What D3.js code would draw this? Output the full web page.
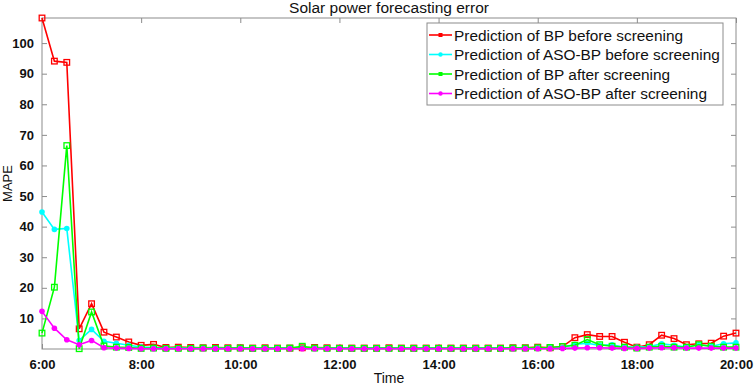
<!DOCTYPE html>
<html>
<head>
<meta charset="utf-8">
<title>Solar power forecasting error</title>
<script src="https://d3js.org/d3.v7.min.js"></script>
<style>
  body { margin: 0; background: #fff; }
  text { font-family: "Liberation Sans", Arial, sans-serif; }
</style>
</head>
<body>
<svg width="754" height="385"></svg>
<script>
// time of day in hours, one point every 15 minutes, 6:00 .. 20:00
const hours = d3.range(0, 57).map(i => 6 + i * 0.25);
const xTicks = [6, 8, 10, 12, 14, 16, 18, 20];
const yTicks = [10, 20, 30, 40, 50, 60, 70, 80, 90, 100];

const bpBefore = [108.2, 94.1, 93.7, 6.6, 14.8, 5.5, 3.9, 2.3, 1.2, 1.5, 0.5, 0.6,
  0.5, 0.4, 0.5, 0.4, 0.4, 0.3, 0.4, 0.3, 0.3, 0.4, 0.5, 0.4, 0.3, 0.3, 0.3, 0.3,
  0.4, 0.3, 0.3, 0.3, 0.3, 0.3, 0.3, 0.3, 0.3, 0.3, 0.4, 0.4,
  0.6, 0.4, 0.8, 3.7, 4.7, 4.1, 4.1, 2.2, 0.6, 1.4, 4.5, 3.4, 1.4, 1.7, 1.9, 4.2, 5.2];
const asoBefore = [44.8, 39.1, 39.4, 2.8, 6.4, 2.5, 1.9, 1.2, 0.6, 0.5, 0.4, 0.4,
  0.3, 0.3, 0.3, 0.3, 0.3, 0.3, 0.3, 0.3, 0.3, 0.3, 0.3, 0.3, 0.3, 0.3, 0.3, 0.3,
  0.3, 0.3, 0.3, 0.3, 0.3, 0.3, 0.3, 0.3, 0.3, 0.3, 0.3, 0.3,
  0.4, 0.4, 0.5, 1.5, 1.9, 1.2, 1.4, 0.6, 0.6, 0.8, 1.7, 1.2, 0.6, 1.4, 0.9, 1.7, 2.0];
const bpAfter = [5.2, 20.2, 66.5, 0.1, 12.1, 1.0, 0.6, 0.5, 0.2, 0.3, 0.2, 0.2,
  0.2, 0.3, 0.2, 0.2, 0.3, 0.2, 0.2, 0.2, 0.3, 0.9, 0.3, 0.2, 0.2, 0.2, 0.2, 0.2,
  0.2, 0.2, 0.2, 0.2, 0.2, 0.2, 0.2, 0.2, 0.2, 0.2, 0.3, 0.3,
  0.4, 0.5, 0.8, 1.2, 3.1, 1.4, 0.9, 0.6, 0.3, 0.6, 0.9, 0.6, 0.6, 1.4, 0.9, 0.6, 0.6];
const asoAfter = [12.3, 6.8, 3.0, 1.4, 2.8, 0.4, 0.3, 0.2, 0.1, 0.1, 0.1, 0.1,
  0.1, 0.1, 0.1, 0.1, 0.1, 0.1, 0.1, 0.1, 0.1, 0.1, 0.1, 0.1, 0.1, 0.1, 0.1, 0.1,
  0.1, 0.1, 0.1, 0.1, 0.1, 0.1, 0.1, 0.1, 0.1, 0.1, 0.1, 0.1,
  0.1, 0.1, 0.2, 0.3, 0.4, 0.4, 0.3, 0.2, 0.2, 0.3, 0.4, 0.4, 0.3, 0.3, 0.3, 0.3, 0.3];

const series = [
  {name: "Prediction of BP before screening", values: bpBefore, color: "#ff0000", marker: "square"},
  {name: "Prediction of ASO-BP before screening", values: asoBefore, color: "#00ffff", marker: "dot"},
  {name: "Prediction of BP after screening", values: bpAfter, color: "#00ff00", marker: "square"},
  {name: "Prediction of ASO-BP after screening", values: asoAfter, color: "#ff00ff", marker: "dot"}
];

const margin = {top: 18, right: 18, bottom: 36, left: 42};
const width = 754 - margin.left - margin.right;
const height = 385 - margin.top - margin.bottom;
const axisColor = "#8c8c8c";

const svg = d3.select("svg");
const g = svg.append("g").attr("transform", "translate(" + margin.left + "," + margin.top + ")");

const x = d3.scaleLinear().domain([6, 20]).range([0, width]);
const y = d3.scaleLinear().domain([0, 108.2]).range([height, 0]);

// box
g.append("rect").attr("width", width).attr("height", height)
  .attr("fill", "none").attr("stroke", axisColor).attr("stroke-width", 1);

// axes
const xAxis = g.append("g").attr("transform", "translate(0," + height + ")")
  .call(d3.axisBottom(x).tickValues(xTicks).tickSize(-5).tickPadding(11).tickFormat(d => d + ":00"));
const xTop = g.append("g").call(d3.axisTop(x).tickValues(xTicks).tickSize(-5).tickFormat(""));
const yAxis = g.append("g")
  .call(d3.axisLeft(y).tickValues(yTicks).tickSize(-5).tickPadding(8));
const yRight = g.append("g").attr("transform", "translate(" + width + ",0)")
  .call(d3.axisRight(y).tickValues(yTicks).tickSize(-5).tickFormat(""));

[xAxis, xTop, yAxis, yRight].forEach(a => {
  a.select(".domain").remove();
  a.selectAll(".tick line").attr("stroke", axisColor);
  a.selectAll(".tick text").attr("fill", "#111").attr("font-size", 13)
    .attr("font-weight", "bold").style("font-family", "Liberation Sans, Arial, sans-serif");
});

// lines
const line = d3.line().x((d, i) => x(hours[i])).y(d => y(d));

function drawMarker(sel, s) {
  if (s.marker === "square") {
    sel.append("rect").attr("x", -2.8).attr("y", -2.8).attr("width", 5.6).attr("height", 5.6)
      .attr("fill", "none").attr("stroke", s.color).attr("stroke-width", 1.3);
  } else {
    sel.append("circle").attr("r", 2.8).attr("fill", s.color);
  }
}

series.forEach(s => {
  g.append("path").datum(s.values)
    .attr("fill", "none").attr("stroke", s.color).attr("stroke-width", 1.6)
    .attr("d", line);
  g.append("g").selectAll("g").data(s.values).enter().append("g")
    .attr("transform", (d, i) => "translate(" + x(hours[i]) + "," + y(d) + ")")
    .each(function () { drawMarker(d3.select(this), s); });
});

// title and labels
svg.append("text").attr("x", margin.left + width / 2).attr("y", 13)
  .attr("text-anchor", "middle").attr("font-size", 15.5).attr("fill", "#111")
  .text("Solar power forecasting error");
svg.append("text").attr("x", margin.left + width / 2).attr("y", 383)
  .attr("text-anchor", "middle").attr("font-size", 14).attr("fill", "#111")
  .text("Time");
svg.append("text").attr("transform", "translate(12," + (margin.top + height / 2) + ") rotate(-90)")
  .attr("text-anchor", "middle").attr("font-size", 13).attr("fill", "#111")
  .text("MAPE");

// legend
const legend = svg.append("g").attr("transform", "translate(427,23)");
legend.append("rect").attr("width", 296).attr("height", 82)
  .attr("fill", "#fff").attr("stroke", axisColor).attr("stroke-width", 1);
series.forEach((s, i) => {
  const row = legend.append("g").attr("transform", "translate(0," + (12 + i * 19.5) + ")");
  row.append("line").attr("x1", 2).attr("x2", 25).attr("stroke", s.color).attr("stroke-width", 1.6);
  const m = row.append("g").attr("transform", "translate(13.5,0)");
  if (s.marker === "square") {
    m.append("rect").attr("x", -2).attr("y", -2).attr("width", 4).attr("height", 4).attr("fill", s.color);
  } else {
    m.append("circle").attr("r", 2.2).attr("fill", s.color);
  }
  row.append("text").attr("x", 27).attr("dy", "0.36em").attr("font-size", 15.4).attr("fill", "#111")
    .text(s.name);
});
</script>
</body>
</html>
